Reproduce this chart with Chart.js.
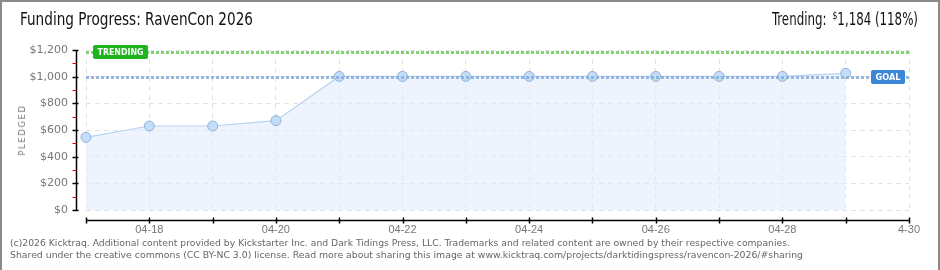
<!DOCTYPE html>
<html>
<head>
<meta charset="utf-8">
<script src="https://cdn.jsdelivr.net/npm/chart.js@4/dist/chart.umd.min.js"></script>
<style>
html,body{margin:0;padding:0;background:#fff;}
#wrap{position:relative;width:940px;height:270px;overflow:hidden;background:#fff;}
#frame{position:absolute;left:0;top:0;width:936px;height:268px;border:2px solid #8a8a8a;border-bottom-width:1px;box-sizing:content-box;pointer-events:none;}
canvas{position:absolute;left:0;top:0;}
.hd{position:absolute;top:9px;font-family:"Liberation Sans Narrow","DejaVu Sans Condensed",sans-serif;font-size:17px;color:#111;white-space:nowrap;transform-origin:0 0;}
#trend sup{font-size:11px;vertical-align:6px;margin-left:3px;}
#ylab{position:absolute;left:22px;top:130px;transform:translate(-50%,-50%) rotate(-90deg);font-family:"DejaVu Sans",sans-serif;font-size:8.5px;letter-spacing:1.6px;color:#777;white-space:nowrap;}
.foot{position:absolute;left:10px;font-family:"DejaVu Sans Condensed","DejaVu Sans",sans-serif;font-size:9.5px;color:#666;white-space:nowrap;transform-origin:0 0;}
</style>
</head>
<body>
<div id="wrap">
<canvas id="c" width="940" height="270"></canvas>
<div class="hd" id="title" style="left:20px">Funding Progress: RavenCon 2026</div>
<div class="hd" id="trend" style="left:772px">Trending: <sup>$</sup>1,184 (118%)</div>
<div id="ylab">PLEDGED</div>
<div class="foot" id="f1" style="top:237px">(c)2026 Kicktraq. Additional content provided by Kickstarter Inc. and Dark Tidings Press, LLC. Trademarks and related content are owned by their respective companies.</div>
<div class="foot" id="f2" style="top:249px">Shared under the creative commons (CC BY-NC 3.0) license. Read more about sharing this image at www.kicktraq.com/projects/darktidingspress/ravencon-2026/#sharing</div>
<div id="frame"></div>
</div>
<script>
const dates = ["04-17","04-18","04-19","04-20","04-21","04-22","04-23","04-24","04-25","04-26","04-27","04-28","04-29","04-30"];
const xTickLabels = ["","04-18","","04-20","","04-22","","04-24","","04-26","","04-28","","4-30"];
const pledged = [545, 630, 630, 670, 1002, 1002, 1002, 1002, 1002, 1002, 1002, 1002, 1025];
const goal = 1000;
const trending = 1184;
const yTicks = [0, 200, 400, 600, 800, 1000, 1200];
const yMinorTicks = [100, 300, 500, 700, 900, 1100];

function fit(id, w){const e=document.getElementById(id);const r=e.getBoundingClientRect().width;e.style.transform='scaleX('+(w/r)+')';}
fit('f1', 780); fit('f2', 793); fit('title', 233); fit('trend', 146);

const overlay = {
  id:'overlay',
  afterDatasetsDraw(chart){
    const ctx = chart.ctx, y = chart.scales.y, a = chart.chartArea;
    ctx.save();
    function dotted(val, color){
      const py = Math.round(y.getPixelForValue(val))+0.5;
      ctx.strokeStyle = color; ctx.lineWidth = 3; ctx.setLineDash([3,2]);
      ctx.beginPath(); ctx.moveTo(a.left, py); ctx.lineTo(a.right, py); ctx.stroke();
      ctx.setLineDash([]);
    }
    dotted(trending, 'rgba(110,200,95,0.85)');
    dotted(goal, 'rgba(140,175,218,0.9)');
    ctx.restore();
  },
  afterDraw(chart){
    const ctx = chart.ctx, x = chart.scales.x, y = chart.scales.y, a = chart.chartArea;
    ctx.save();
    function box(text, left, cy, w, bg){
      const h = 14;
      ctx.fillStyle = bg;
      ctx.beginPath();
      if (ctx.roundRect) ctx.roundRect(left, cy - h/2, w, h, 2); else ctx.rect(left, cy-h/2, w, h);
      ctx.fill();
      ctx.fillStyle = '#fff';
      ctx.font = 'bold 9px "DejaVu Sans", sans-serif';
      ctx.textAlign = 'left'; ctx.textBaseline = 'middle';
      const tw = ctx.measureText(text).width;
      const target = w - 9;
      ctx.save();
      ctx.translate(left + 4.5, cy + 0.5);
      ctx.scale(target / tw, 1);
      ctx.fillText(text, 0, 0);
      ctx.restore();
    }
    const ty = Math.round(y.getPixelForValue(trending));
    const gy = Math.round(y.getPixelForValue(goal));
    box('TRENDING', a.left + 7, ty, 55, '#1eb41e');
    box('GOAL', a.right - 38, gy, 34, '#3c87d5');

    const ax = Math.round(a.left - 10) + 0.5;
    ctx.strokeStyle = '#000'; ctx.lineWidth = 1.5;
    ctx.beginPath(); ctx.moveTo(ax, y.getPixelForValue(1200)); ctx.lineTo(ax, y.getPixelForValue(0)); ctx.stroke();
    yTicks.forEach(v=>{const py=Math.round(y.getPixelForValue(v))+0.5;ctx.beginPath();ctx.moveTo(ax-4,py);ctx.lineTo(ax+2,py);ctx.stroke();});
    ctx.strokeStyle = '#e00000'; ctx.lineWidth = 1;
    yMinorTicks.forEach(v=>{const py=Math.round(y.getPixelForValue(v))+0.5;ctx.beginPath();ctx.moveTo(ax-4,py);ctx.lineTo(ax,py);ctx.stroke();});
    const ay = Math.round(a.bottom + 10) + 0.5;
    ctx.strokeStyle = '#000'; ctx.lineWidth = 1.5;
    ctx.beginPath(); ctx.moveTo(a.left, ay); ctx.lineTo(a.right, ay); ctx.stroke();
    dates.forEach((d,i)=>{const px=Math.round(x.getPixelForValue(i))+0.5;ctx.beginPath();ctx.moveTo(px,ay-3);ctx.lineTo(px,ay+3);ctx.stroke();});
    ctx.restore();
  }
};

new Chart(document.getElementById('c'), {
  type:'line',
  data:{
    labels: dates,
    datasets:[{
      data: pledged,
      borderColor:'#b7d3f2',
      borderWidth:1.2,
      backgroundColor:'rgba(226,237,252,0.6)',
      fill:'origin',
      tension:0,
      pointRadius:5,
      pointBackgroundColor:'#c3dcf7',
      pointBorderColor:'#90b2d8',
      pointBorderWidth:1
    }]
  },
  options:{
    responsive:false,
    animation:false,
    devicePixelRatio:1,
    layout:{padding:{left:0,right:31,top:50,bottom:0}},
    plugins:{legend:{display:false},tooltip:{enabled:false},title:{display:false}},
    scales:{
      x:{
        type:'category',
        offset:false,
        grid:{color:'#e2e2e2',lineWidth:1,drawTicks:false},
        border:{display:false,dash:[5,4]},
        ticks:{autoSkip:false,maxRotation:0,padding:13,color:'#777',font:{family:'"Liberation Sans", sans-serif',size:11},
          callback:(v,i)=>xTickLabels[i]},
        afterFit:(s)=>{s.height=60;}
      },
      y:{
        min:0,max:1200,
        grid:{color:'#e2e2e2',lineWidth:1,drawTicks:false},
        border:{display:false,dash:[5,4]},
        ticks:{stepSize:200,padding:18,color:'#777',font:{family:'"DejaVu Sans", sans-serif',size:11},
          callback:(v)=>'$'+v.toLocaleString('en-US')},
        afterFit:(s)=>{s.width=86;}
      }
    }
  },
  plugins:[overlay]
});
</script>
</body>
</html>
